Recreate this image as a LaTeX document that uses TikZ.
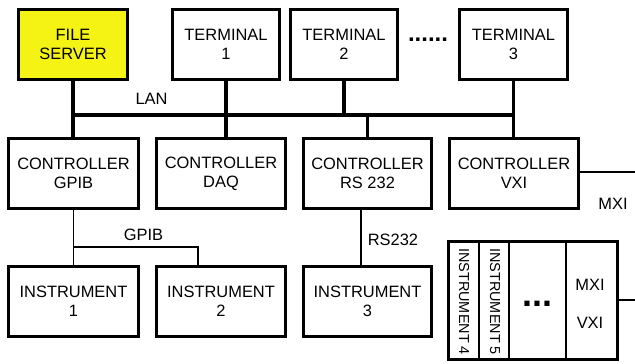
\documentclass[tikz,border=0pt]{standalone}
\usepackage{fontspec}
\setmainfont{Liberation Sans}
\definecolor{fsyellow}{RGB}{245,243,20}
\begin{document}
\begin{tikzpicture}[x=1bp,y=-1bp,
  box/.style={draw, line width=3bp, inner sep=0pt, minimum height=70bp, align=center, font=\fontsize{16.5}{19}\selectfont},
  lbl/.style={inner sep=0pt, font=\fontsize{16.5}{19}\selectfont},
  rotlbl/.style={inner sep=0pt, font=\fontsize{14.5}{17}\selectfont, rotate=-90, anchor=west},
  bus/.style={line width=3.3bp},
  wire/.style={line width=1.1bp},
  divider/.style={line width=1.3bp}]
\useasboundingbox (0,0) rectangle (635,363);
% top row
\node[box, fill=fsyellow, minimum width=109bp] (fs) at (73,44.5) {FILE\\SERVER};
\node[box, minimum width=107bp] (t1) at (226,44.5) {TERMINAL\\1};
\node[box, minimum width=107bp] (t2) at (344,44.5) {TERMINAL\\2};
\node[inner sep=0pt, font=\fontsize{24}{24}\selectfont\bfseries] (tdots) at (428,39.7) {......};
\node[box, minimum width=108bp] (t3) at (513.5,44.5) {TERMINAL\\3};
% controllers
\node[box, minimum width=130bp] (gpib) at (73.5,173.5) {CONTROLLER\\GPIB};
\node[box, minimum width=129bp] (daq) at (221,173.5) {CONTROLLER\\DAQ};
\node[box, minimum width=128bp] (rs) at (367.5,173.5) {CONTROLLER\\RS 232};
\node[box, minimum width=129bp] (vxi) at (514,173.5) {CONTROLLER\\VXI};
% instruments
\node[box, minimum width=130bp] (i1) at (73.5,301.5) {INSTRUMENT\\1};
\node[box, minimum width=129bp] (i2) at (221,301.5) {INSTRUMENT\\2};
\node[box, minimum width=128bp] (i3) at (367.5,301.5) {INSTRUMENT\\3};
% VXI chassis
\node[draw, line width=3bp, inner sep=0pt, minimum width=169bp, minimum height=118bp] (ch) at (533,300.5) {};
\coordinate (d1) at (479,0);
\coordinate (d2) at (509,0);
\coordinate (d3) at (566,0);
\draw[divider] (ch.north -| d1) -- (ch.south -| d1);
\draw[divider] (ch.north -| d2) -- (ch.south -| d2);
\draw[divider] (ch.north -| d3) -- (ch.south -| d3);
\node[rotlbl] (in4) at (464,248) {INSTRUMENT 4};
\node[rotlbl] (in5) at (495,248) {INSTRUMENT 5};
\node[inner sep=0pt, font=\fontsize{36}{36}\selectfont\bfseries] (cdots) at (537,304) {...};
\node[lbl] (cmxi) at (590,285) {MXI};
\node[lbl] (cvxi) at (590,323) {VXI};
% labels
\node[lbl] (lan) at (151.5,99) {LAN};
\node[lbl] (gpiblbl) at (143.5,235) {GPIB};
\node[lbl] (rslbl) at (393,240) {RS232};
\node[lbl] (mxilbl) at (613,204) {MXI};
% LAN bus
\coordinate (busL) at (73,115);
\draw[bus] (fs.south) -- (fs.south |- gpib.north);
\draw[bus] (t1.south) -- (t1.south |- daq.north);
\draw[bus] (t2.south) -- (t2.south |- busL);
\draw[bus] (rs.north) -- (rs.north |- busL);
\draw[bus] (t3.south) -- (t3.south |- vxi.north);
\draw[bus] (fs.south |- busL) -- (t3.south |- busL);
% GPIB
\coordinate (gj) at (198,247);
\draw[wire] (gpib.south) -- (gpib.south |- i1.north);
\draw[wire] (gpib.south |- gj) -- (gj) -- (gj |- i2.north);
% RS232
\coordinate (rsx) at (361,0);
\draw[wire] (rs.south -| rsx) -- (i3.north -| rsx);
% MXI
\coordinate (mxiR) at (635,172);
\draw[wire] (vxi.east |- mxiR) -- (mxiR);
\coordinate (chR) at (635,300);
\draw[wire] (ch.east |- chR) -- (chR);
\end{tikzpicture}
\end{document}
